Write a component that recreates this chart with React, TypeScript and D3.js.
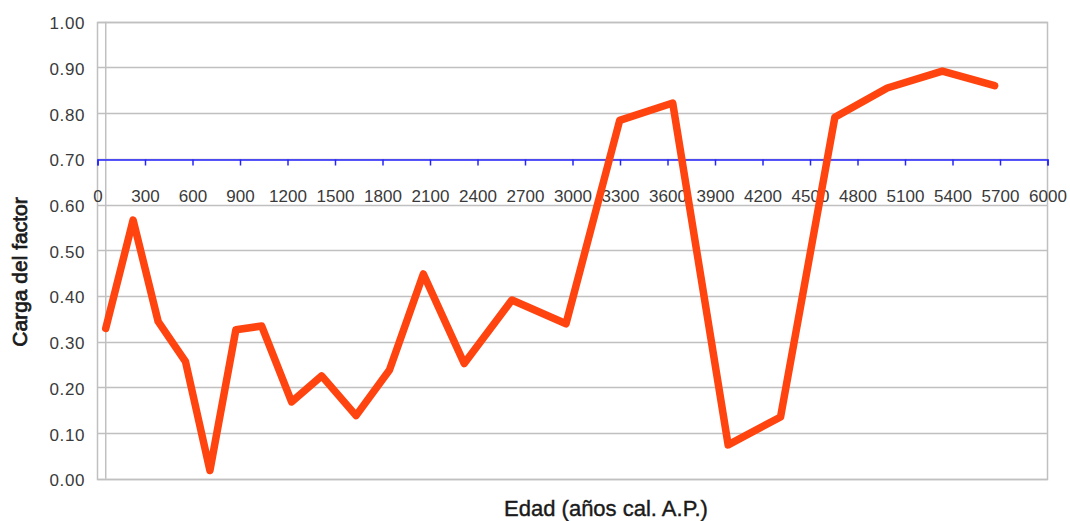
import React, { useEffect, useRef } from 'react'
import * as d3 from 'd3';

// edad (años cal. A.P.) y carga del factor
const ages = [52, 225, 383, 556, 710, 874, 1037, 1226, 1416, 1633, 1844, 2058, 2316, 2617, 2959, 3298, 3633, 3983, 4314, 4657, 4988, 5336, 5666];
const loads = [0.329, 0.566, 0.344, 0.256, 0.018, 0.326, 0.334, 0.168, 0.225, 0.138, 0.238, 0.448, 0.252, 0.391, 0.339, 0.784, 0.822, 0.074, 0.135, 0.791, 0.855, 0.892, 0.860];
const yTicks = [0, 0.1, 0.2, 0.3, 0.4, 0.5, 0.6, 0.7, 0.8, 0.9, 1.0];
const xTicks = d3.range(0, 6001, 300);
const threshold = 0.7;

function App() {
  const ref = useRef<SVGSVGElement>(null);

  useEffect(() => {
    document.body.style.margin = "0";
    const w = 1070;
    const h = 521;
    const m = { top: 21.7, right: 22.5, bottom: 42.3, left: 97.5 };
    const font = "'Liberation Sans', Arial, sans-serif";

    const svg = d3.select(ref.current)
      .attr("width", w)
      .attr("height", h);
    svg.selectAll("*").remove();

    const x = d3.scaleLinear().domain([0, 6000]).range([m.left, w - m.right]);
    const y = d3.scaleLinear().domain([0, 1]).range([h - m.bottom, m.top]);

    // GRID
    svg.append("g")
      .selectAll("line")
      .data(yTicks)
      .join("line")
      .attr("x1", m.left)
      .attr("x2", w - m.right)
      .attr("y1", d => Math.round(y(d)) + 0.5)
      .attr("y2", d => Math.round(y(d)) + 0.5)
      .attr("stroke", "#c0c0c0")
      .attr("stroke-width", 1.5);

    // FRAME
    svg.append("rect")
      .attr("x", m.left)
      .attr("y", Math.round(y(1)) + 0.5)
      .attr("width", x(6000) - x(0))
      .attr("height", Math.round(y(0)) - Math.round(y(1)))
      .attr("fill", "none")
      .attr("stroke", "#c0c0c0")
      .attr("stroke-width", 1.5);

    svg.append("line")
      .attr("x1", x(ages[0]))
      .attr("x2", x(ages[0]))
      .attr("y1", y(1))
      .attr("y2", y(0))
      .attr("stroke", "#c0c0c0")
      .attr("stroke-width", 1.5);

    // Y LABELS
    svg.append("g")
      .selectAll("text")
      .data(yTicks)
      .join("text")
      .attr("x", 85)
      .attr("y", d => y(d) + 7.5)
      .attr("text-anchor", "end")
      .attr("font-family", font)
      .attr("font-size", 17)
      .attr("letter-spacing", 0.6)
      .attr("fill", "#3a3a3a")
      .text(d => d.toFixed(2));

    // X AXIS (crosses at 0.70)
    const xAxis = svg.append("g")
      .attr("transform", `translate(0,${Math.round(y(threshold)) + 0.5})`)
      .call(d3.axisBottom(x).tickValues(xTicks).tickSize(6).tickPadding(24).tickFormat(d3.format("d")));
    xAxis.select(".domain").attr("stroke", "#2525ff").attr("stroke-width", 1.5);
    xAxis.selectAll(".tick line").attr("stroke", "#2525ff").attr("stroke-width", 1.5);
    xAxis.selectAll(".tick text")
      .attr("font-family", font)
      .attr("font-size", 17)
      .attr("fill", "#3a3a3a");

    // LINE
    const line = d3.line<number>()
      .x((d, i) => x(ages[i]))
      .y(d => y(d));
    svg.append("path")
      .attr("d", line(loads))
      .attr("fill", "none")
      .attr("stroke", "#ff4410")
      .attr("stroke-width", 7.5)
      .attr("stroke-linejoin", "round")
      .attr("stroke-linecap", "round");

    // TITLES
    svg.append("text")
      .attr("x", 606)
      .attr("y", 516)
      .attr("text-anchor", "middle")
      .attr("font-family", font)
      .attr("font-size", 22)
      .attr("fill", "#1a1a1a")
      .attr("stroke", "#1a1a1a")
      .attr("stroke-width", 0.4)
      .text("Edad (años cal. A.P.)");

    svg.append("text")
      .attr("transform", "translate(27,272) rotate(-90)")
      .attr("text-anchor", "middle")
      .attr("font-family", font)
      .attr("font-size", 21)
      .attr("fill", "#1a1a1a")
      .attr("stroke", "#1a1a1a")
      .attr("stroke-width", 0.7)
      .text("Carga del factor");
  }, []);

  return (
    <div>
      <svg ref={ref} style={{ display: "block" }}></svg>
    </div>
  )
}

export default App
